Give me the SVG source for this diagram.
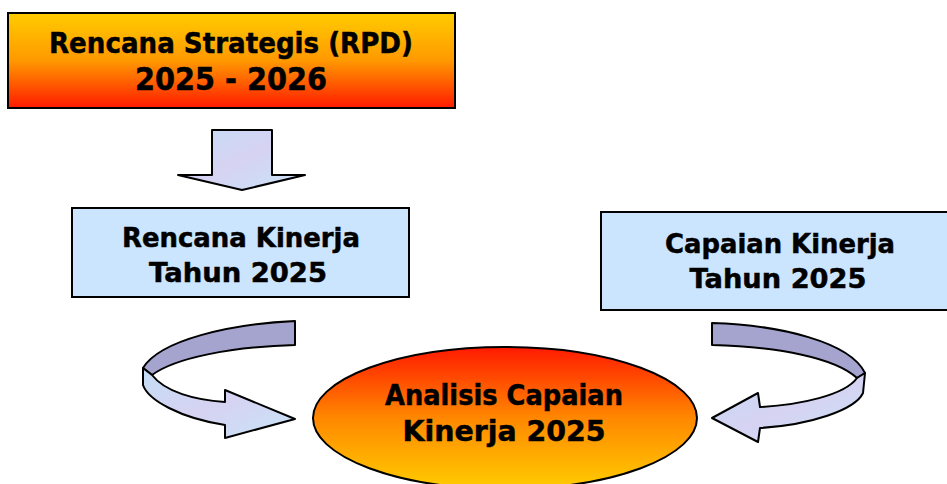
<svg xmlns="http://www.w3.org/2000/svg" width="947" height="484" viewBox="0 0 947 484">
<defs>
<linearGradient id="gTop" x1="0" y1="0" x2="0" y2="1">
<stop offset="0" stop-color="#FFCC00"/><stop offset="0.5" stop-color="#FF9900"/><stop offset="1" stop-color="#FF1A00"/>
</linearGradient>
<linearGradient id="gEll" x1="0" y1="0" x2="0" y2="1">
<stop offset="0" stop-color="#FF1A00"/><stop offset="0.5" stop-color="#FF8800"/><stop offset="1" stop-color="#FFCC00"/>
</linearGradient>
<linearGradient id="gLight" x1="0" y1="0" x2="1" y2="1">
<stop offset="0" stop-color="#C4DDF5"/><stop offset="0.5" stop-color="#D6D2F2"/><stop offset="1" stop-color="#C8E4F8"/>
</linearGradient>
</defs>
<style>
.t{font-family:"DejaVu Sans","Verdana",sans-serif;font-weight:bold;fill:#000;stroke:#000;stroke-width:0.5;text-anchor:middle}
.box{stroke:#000;stroke-width:2}
.dark{fill:#A4A4CE;stroke:#000;stroke-width:2;stroke-linejoin:round}
.light{fill:url(#gLight);stroke:#000;stroke-width:2;stroke-linejoin:round}
</style>
<g id="rpd">
<rect class="box" x="8" y="13" width="447" height="95" fill="url(#gTop)"/>
<text class="t" x="231" y="53" font-size="29" textLength="364" lengthAdjust="spacingAndGlyphs">Rencana Strategis (RPD)</text>
<text class="t" x="231" y="90" font-size="32" textLength="192" lengthAdjust="spacingAndGlyphs">2025 - 2026</text>
</g>
<g id="renja">
<rect class="box" x="72" y="208" width="337" height="89" fill="#CCE5FF"/>
<text class="t" x="241" y="247" font-size="26.5" textLength="238" lengthAdjust="spacingAndGlyphs">Rencana Kinerja</text>
<text class="t" x="238" y="282" font-size="26.5" textLength="178" lengthAdjust="spacingAndGlyphs">Tahun 2025</text>
</g>
<g id="capaian">
<rect class="box" x="601" y="212" width="360" height="98" fill="#CCE5FF"/>
<text class="t" x="780" y="253" font-size="27" textLength="230" lengthAdjust="spacingAndGlyphs">Capaian Kinerja</text>
<text class="t" x="778" y="288" font-size="27" textLength="177" lengthAdjust="spacingAndGlyphs">Tahun 2025</text>
</g>
<g id="analisis">
<ellipse class="box" cx="505" cy="418" rx="192" ry="71" fill="url(#gEll)"/>
<text class="t" x="504" y="405" font-size="27.5" textLength="238" lengthAdjust="spacingAndGlyphs">Analisis Capaian</text>
<text class="t" x="504" y="441" font-size="27.5" textLength="203" lengthAdjust="spacingAndGlyphs">Kinerja 2025</text>
</g>
<g id="connectors">
<path class="light" d="M212 130 L272 130 L272 175 L305 175 L242 190 L178 175 L212 175 Z"/>
<path class="dark" d="M295 321 C230 324 160 340 143 368 L152 375 C175 358 230 347 295 345 Z"/>
<path class="light" d="M143 368 L143 385 C148 400 180 418 225 425 L225 438 L295 419 L225 390 L225 402 C195 400 165 392 152 375 Z"/>
<path class="dark" d="M712 323 C780 325 850 342 865 373 L857 378 C835 358 780 347 712 345 Z"/>
<path class="light" d="M865 373 L863 393 C855 410 810 425 760 428 L758 442 L712 418 L758 393 L760 407 C800 405 845 395 857 378 Z"/>
</g>
</svg>
